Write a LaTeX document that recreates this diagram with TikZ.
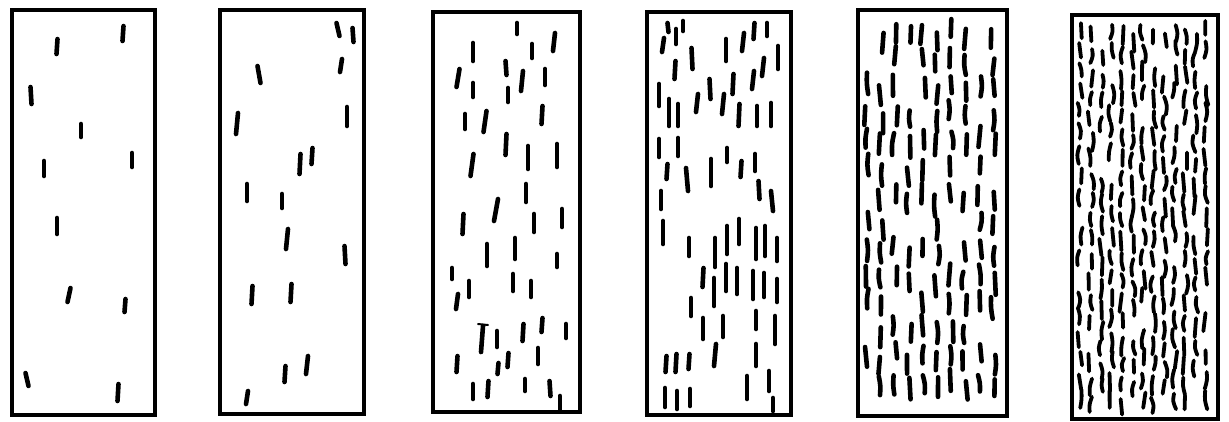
\documentclass[tikz,border=0pt]{standalone}
\begin{document}
\begin{tikzpicture}[x=1pt,y=-1pt,
  frame/.style={line width=4pt,line join=miter},
  stk/.style={line width=4.6pt,line cap=round}]
\useasboundingbox (0,0) rectangle (1229,421);
% frames
\draw[frame] (12,10) rectangle (155,415);
\draw[frame] (220,10) rectangle (364,414);
\draw[frame] (433,12) rectangle (580,412);
\draw[frame] (647,12) rectangle (791,415);
\draw[frame] (858,10) rectangle (1007,416);
\draw[frame] (1072,15) rectangle (1218,419);
% box 1
\foreach \x/\a/\b/\d in {57/39/54/1,123/26/41/1,31/87/104/-1,81/124/137/0,132/153/167/0,44/161/176/0,
  57/218/234/0,69/288/302/3,125/299/312/1,27/373/386/-3,118/384/401/1}
  \draw[stk] (\x+\d/2,\a) -- (\x-\d/2,\b);
% box 2
\foreach \x/\a/\b/\d in {338/23/36/-3,353/28/42/-1,259/66/83/-3,341/59/72/2,237/113/134/2,347/107/126/0,
  312/148/164/1,300/154/174/1,247/184/201/0,282/194/208/0,287/229/249/2,345/246/264/-1,
  252/286/304/1,291/284/302/1,307/356/374/2,285/366/382/1,247/391/404/2}
  \draw[stk] (\x+\d/2,\a) -- (\x-\d/2,\b);
% box 3
\foreach \x/\a/\b/\d in {517/23/34/0,554/33/51/2,473/43/61/0,532/44/58/0,506/61/75/-1,458/69/87/3,
  473/83/97/0,522/71/91/2,545/69/85/0,508/88/102/0,465/114/129/0,485/111/132/3,542/106/124/1,
  506/134/155/1,472/154/176/3,528/146/169/0,557/144/167/0,526/184/202/0,496/199/221/4,
  463/214/234/1,534/214/232/0,562/209/227/0,487/244/266/0,515/238/259/0,557/254/267/0,
  452/268/279/0,469/281/297/0,457/294/309/2,513/274/291/0,531/281/297/0,482/326/352/2,
  497/331/347/0,523/324/341/1,542/318/332/1,566/324/338/0,457/356/372/1,498/363/374/1,
  508/353/367/1,538/348/364/0,473/384/399/0,488/381/397/1,525/379/391/0,550/381/396/-1,560/396/409/0}
  \draw[stk] (\x+\d/2,\a) -- (\x-\d/2,\b);
\draw[line width=2pt,line cap=round] (478,324) -- (488,325);
% box 4
\foreach \x/\a/\b/\d in {668/23/32/-1,676/29/44/0,683/21/31/0,663/38/52/2,754/23/39/1,767/23/36/0,
  743/33/51/2,726/39/61/0,778/46/69/0,692/48/69/-1,763/58/76/2,675/61/79/1,
  733/74/94/1,753/71/89/2,710/79/99/-1,659/84/106/0,669/99/126/0,678/104/126/0,697/94/112/2,
  723/94/114/2,739/104/126/1,757/106/126/0,771/103/126/0,
  659/139/157/0,678/138/156/0,667/164/179/1,687/168/191/-2,711/159/186/0,727/148/162/0,
  741/161/177/1,755/154/171/0,759/181/199/-1,772/191/211/-2,661/191/209/0,
  663/221/244/0,689/238/256/0,715/238/267/0,727/226/254/0,739/219/244/0,756/228/259/0,
  765/226/256/0,777/238/261/0,703/268/287/1,714/278/306/0,726/264/291/0,737/268/294/0,
  753/271/299/0,764/273/297/0,777/279/302/0,691/298/316/0,703/318/339/0,723/316/337/0,
  756/311/329/0,775/316/344/0,666/356/372/1,676/354/372/1,689/354/369/1,715/344/366/2,
  756/344/366/0,747/376/399/0,769/371/391/0,665/388/407/0,677/391/409/0,690/389/406/0,773/398/411/0}
  \draw[stk] (\x+\d/2,\a) -- (\x-\d/2,\b);
% box 5
\pgfmathsetseed{7}
\foreach \r in {0,...,13}{
  \foreach \c in {0,...,9}{
    \pgfmathsetmacro{\px}{867+\c*14+2.5*rand}
    \pgfmathsetmacro{\py}{22+\r*27+4*rand+mod(\c,2)*7}
    \pgfmathsetmacro{\len}{16+6*rnd}
    \pgfmathsetmacro{\sl}{1*rand}
    \pgfmathsetmacro{\bd}{1.5*rand}
    \pgfmathsetmacro{\keep}{rnd}
    \ifdim\keep pt<0.86pt
      \draw[stk] (\px+\sl,\py) .. controls (\px+\bd,\py+\len/2) .. (\px-\sl,\py+\len);
    \fi
  }
}
% box 6
\pgfmathsetseed{11}
\foreach \r in {0,...,18}{
  \foreach \c in {0,...,12}{
    \pgfmathsetmacro{\px}{1080+\c*10.5+2*rand}
    \pgfmathsetmacro{\py}{23+\r*20.5+3*rand+mod(\c,3)*5}
    \pgfmathsetmacro{\len}{13+6*rnd}
    \pgfmathsetmacro{\sl}{1.2*rand}
    \pgfmathsetmacro{\bd}{2.5*rand}
    \pgfmathsetmacro{\keep}{rnd}
    \ifdim\keep pt<0.9pt
      \draw[stk,line width=3.8pt] (\px+\sl,\py) .. controls (\px+\bd,\py+\len/2) .. (\px-\sl,\py+\len);
    \fi
  }
}
\end{tikzpicture}
\end{document}
